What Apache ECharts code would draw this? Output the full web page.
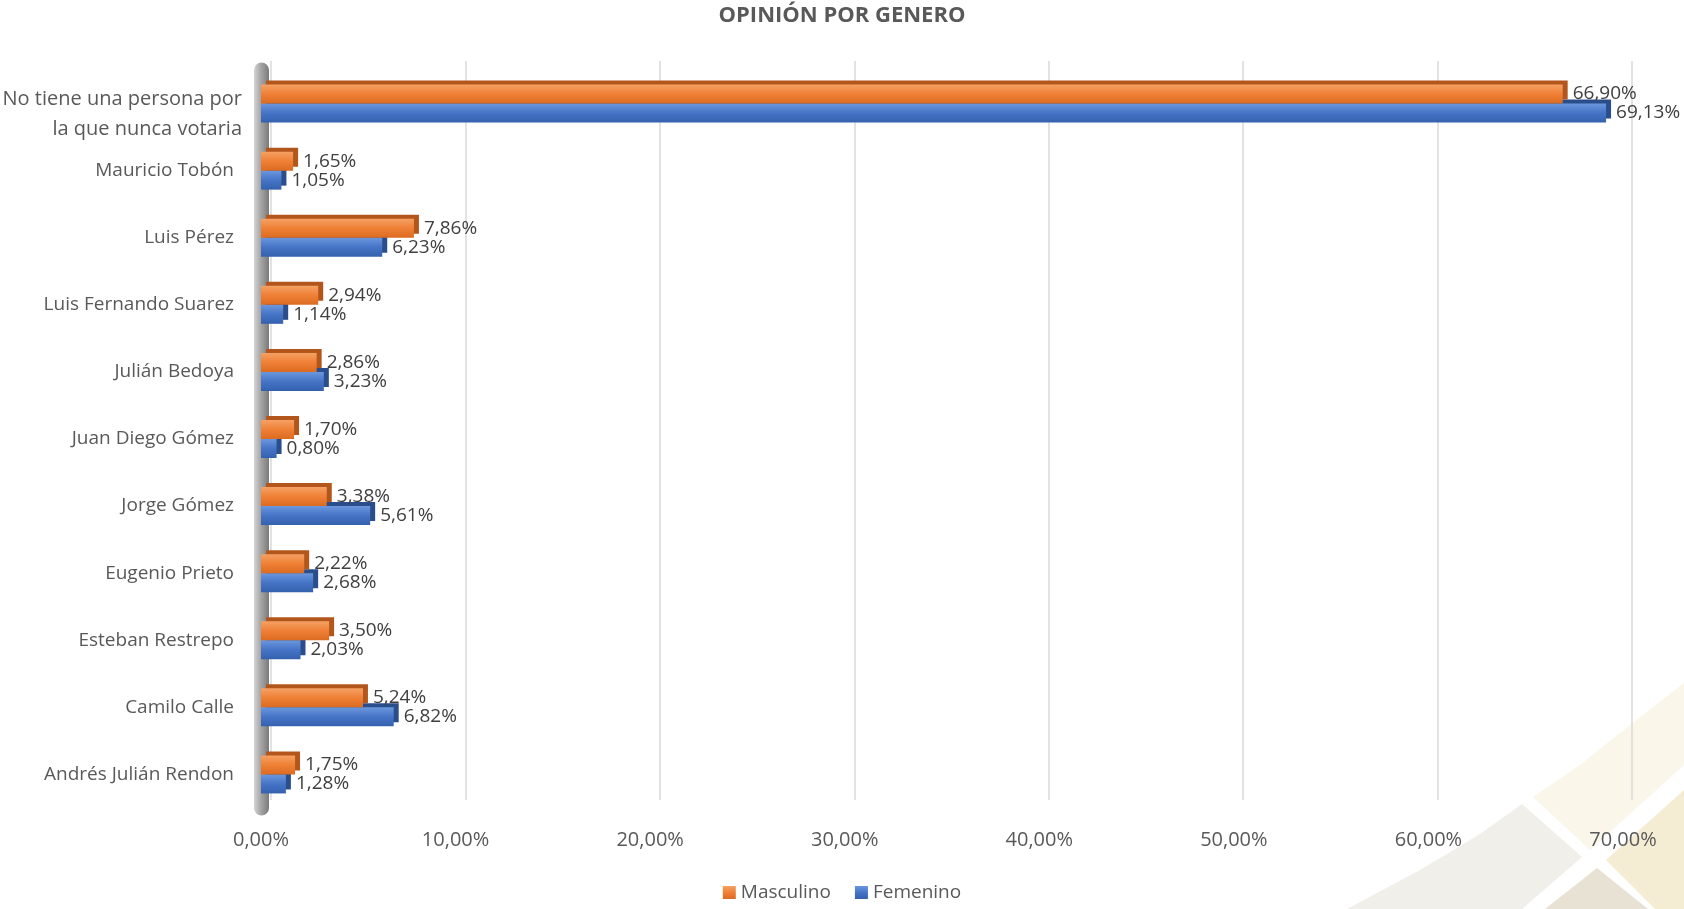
<!DOCTYPE html>
<html>
<head>
<meta charset="utf-8">
<script src="https://cdn.jsdelivr.net/npm/echarts@6/dist/echarts.min.js"></script>
<style>
html,body{margin:0;padding:0;background:#fff;}
#chart{width:1684px;height:909px;}
</style>
</head>
<body>
<div id="chart"></div>
<script>
const titleText = 'OPINIÓN POR GENERO';
const categories = [
  'No tiene una persona por\nla que nunca votaria',
  'Mauricio Tobón',
  'Luis Pérez',
  'Luis Fernando Suarez',
  'Julián Bedoya',
  'Juan Diego Gómez',
  'Jorge Gómez',
  'Eugenio Prieto',
  'Esteban Restrepo',
  'Camilo Calle',
  'Andrés Julián Rendon'
];
const seriesNames = ['Masculino', 'Femenino'];
const masculino = [66.90, 1.65, 7.86, 2.94, 2.86, 1.70, 3.38, 2.22, 3.50, 5.24, 1.75];
const femenino  = [69.13, 1.05, 6.23, 1.14, 3.23, 0.80, 5.61, 2.68, 2.03, 6.82, 1.28];
const axisMin = 0, axisMax = 70, axisInterval = 10;

const FONT = '"Open Sans", "Noto Sans", sans-serif';
const fmt = v => v.toFixed(2).replace('.', ',') + '%';
const G = echarts.graphic;

// first (two-line) label sits a little further right than the others
const yData = categories.map(c => c.indexOf('\n') >= 0 ? { value: c, textStyle: { padding: [0, 0, 0, 0] } } : c);

const chart = echarts.init(document.getElementById('chart'));
chart.setOption({
  backgroundColor: '#ffffff',
  animation: false,
  title: {
    text: titleText,
    left: 'center',
    top: 0,
    textStyle: { fontFamily: FONT, fontSize: 22, fontWeight: 'bold', color: '#595959' }
  },
  legend: {
    data: seriesNames,
    left: 'center',
    top: 878,
    icon: 'rect',
    itemWidth: 13,
    itemHeight: 13,
    itemGap: 24,
    textStyle: { fontFamily: FONT, fontSize: 19, color: '#595959' }
  },
  graphic: [
    { type: 'polygon', z: -10, silent: true,
      shape: { points: [[1347,909],[1420,870],[1480,834],[1522,804],[1582,857],[1522,909]] },
      style: { fill: '#f1efea' } },
    { type: 'polygon', z: -10, silent: true,
      shape: { points: [[1533,797],[1580,765],[1630,725],[1684,683],[1684,765],[1590,850]] },
      style: { fill: '#fbf6ea' } },
    { type: 'polygon', z: -10, silent: true,
      shape: { points: [[1597,868],[1545,909],[1648,909]] },
      style: { fill: '#e7e2d4' } },
    { type: 'polygon', z: -10, silent: true,
      shape: { points: [[1606,860],[1684,790],[1684,909],[1655,909]] },
      style: { fill: '#f4ecd3' } }
  ],
  grid: [
    { left: 261, right: 61, top: 70, height: 738, containLabel: false, outerBoundsMode: 'none' },
    { left: 271, right: 52, top: 61, height: 739, containLabel: false, outerBoundsMode: 'none' }
  ],
  xAxis: [
    {
      type: 'value', gridIndex: 0, min: axisMin, max: axisMax, interval: axisInterval,
      axisLine: { show: false }, axisTick: { show: false }, splitLine: { show: false },
      axisLabel: { margin: 22, fontFamily: FONT, fontSize: 20, color: '#595959',
        formatter: v => fmt(v) }
    },
    {
      type: 'value', gridIndex: 1, min: axisMin, max: axisMax, interval: axisInterval,
      axisLine: { show: false }, axisTick: { show: false }, axisLabel: { show: false },
      splitLine: { show: true, lineStyle: { color: '#d9d9d9', width: 1.5 } }
    }
  ],
  yAxis: [
    {
      type: 'category', gridIndex: 0, data: yData, inverse: true,
      axisTick: { show: false },
      axisLine: { show: true, lineStyle: {
        width: 15,
        color: new G.LinearGradient(254, 0, 269, 0, [
          { offset: 0, color: '#d4d4d4' },
          { offset: 0.45, color: '#a6a6a6' },
          { offset: 1, color: '#7a7a7a' }
        ], true)
      } },
      axisLabel: {
        margin: 19, padding: [0, 8, 0, 0],
        fontFamily: FONT, fontSize: 19, color: '#595959', align: 'right',
        formatter: v => {
          const parts = v.split('\n');
          if (parts.length > 1) return '{a|' + parts[0] + '}\n{b|' + parts[1] + '}';
          return v;
        },
        rich: {
          a: { fontFamily: FONT, fontSize: 20, color: '#595959', lineHeight: 52, align: 'right' },
          b: { fontFamily: FONT, fontSize: 20, color: '#595959', lineHeight: 8, align: 'right' }
        }
      }
    },
    {
      type: 'category', gridIndex: 1, data: categories, inverse: true, show: false
    }
  ],
  series: [
    {
      name: seriesNames[0], type: 'bar', xAxisIndex: 0, yAxisIndex: 0,
      data: masculino, barWidth: 19, barGap: '0%', z: 4,
      itemStyle: {
        color: new G.LinearGradient(0, 0, 0, 1, [
          { offset: 0, color: '#f5a164' },
          { offset: 0.5, color: '#ef8035' },
          { offset: 1, color: '#db6b20' }
        ]),
        shadowColor: '#b3561b', shadowBlur: 0, shadowOffsetX: 5, shadowOffsetY: -4
      },
      label: { show: true, position: 'right', distance: 10, fontFamily: FONT, fontSize: 19,
        color: '#404040', formatter: p => fmt(p.value) }
    },
    {
      name: seriesNames[1], type: 'bar', xAxisIndex: 0, yAxisIndex: 0,
      data: femenino, barWidth: 19, barGap: '0%', z: 3,
      itemStyle: {
        color: new G.LinearGradient(0, 0, 0, 1, [
          { offset: 0, color: '#6b97dd' },
          { offset: 0.5, color: '#4674c6' },
          { offset: 1, color: '#3461ae' }
        ]),
        shadowColor: '#2a4d8c', shadowBlur: 0, shadowOffsetX: 5, shadowOffsetY: -4
      },
      label: { show: true, position: 'right', distance: 10, fontFamily: FONT, fontSize: 19,
        color: '#404040', formatter: p => fmt(p.value) }
    }
  ]
});
</script>
</body>
</html>
